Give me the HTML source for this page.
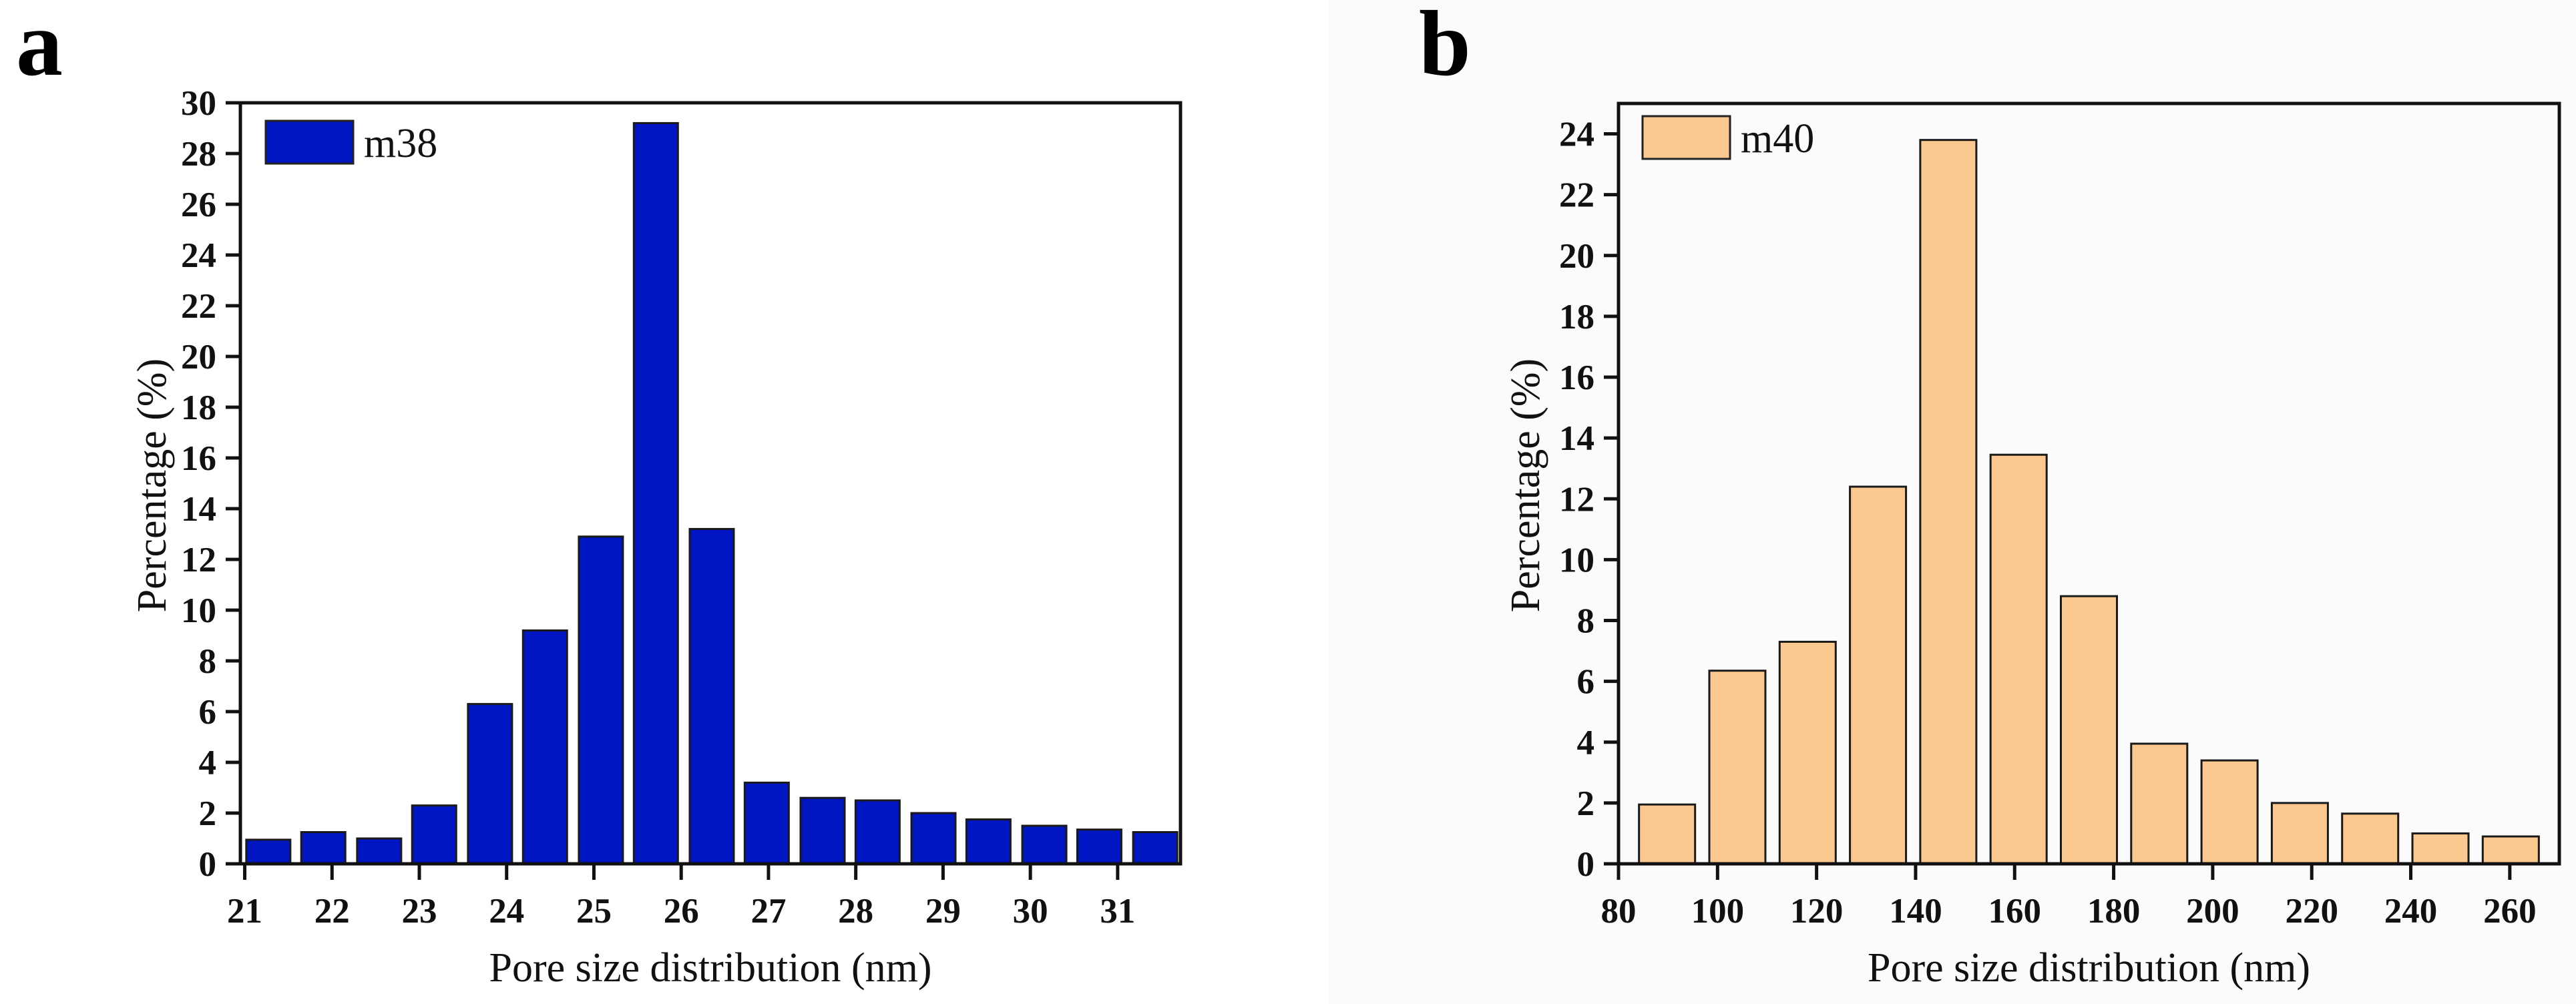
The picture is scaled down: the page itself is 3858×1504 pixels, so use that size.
<!DOCTYPE html>
<html><head><meta charset="utf-8"><style>
html,body{margin:0;padding:0;background:#fff;}
svg{display:block;font-family:"Liberation Serif",serif;}
</style></head><body>
<svg id="fig" width="3858" height="1504" viewBox="0 0 3858 1504" xmlns="http://www.w3.org/2000/svg">
<rect x="0" y="0" width="3858" height="1504" fill="#ffffff"/>
<rect x="1990" y="0" width="1868" height="1504" fill="#fbfbfb"/>
<g id="pa"></g>
<g id="pb"></g>
</svg>
<script>
// Panel a data
const catsA = [21.27,21.90,22.54,23.17,23.81,24.44,25.08,25.71,26.35,26.98,27.62,28.25,28.89,29.52,30.16,30.79,31.43];
const valsA = [0.95,1.25,1.0,2.3,6.3,9.2,12.9,29.2,13.2,3.2,2.6,2.5,2.0,1.75,1.5,1.35,1.25];
const xTicksA = [21,22,23,24,25,26,27,28,29,30,31];
const yTicksA = [0,2,4,6,8,10,12,14,16,18,20,22,24,26,28,30];
// Panel b data
const catsB = [89.8,104,118.2,132.4,146.6,160.8,175,189.2,203.4,217.6,231.8,246,260.2];
const valsB = [1.95,6.35,7.3,12.4,23.8,13.45,8.8,3.95,3.4,2.0,1.65,1.0,0.9];
const xTicksB = [80,100,120,140,160,180,200,220,240,260];
const yTicksB = [0,2,4,6,8,10,12,14,16,18,20,22,24];

const NS="http://www.w3.org/2000/svg";
function mk(tag,attrs,parent){const e=document.createElementNS(NS,tag);for(const k in attrs)e.setAttribute(k,attrs[k]);parent.appendChild(e);return e;}

function panel(g,cfg){
  const sx=v=>cfg.L+(v-cfg.xmin)/(cfg.xmax-cfg.xmin)*(cfg.R-cfg.L);
  const sy=v=>cfg.B-(v-cfg.ymin)/(cfg.ymax-cfg.ymin)*(cfg.B-cfg.T);
  // bars
  cfg.cats.forEach((c,i)=>{
    const x=sx(c)-cfg.bw/2, y=sy(cfg.vals[i]);
    const r=mk('rect',{x:x,y:y,width:cfg.bw,height:cfg.B-y,fill:cfg.fill,stroke:'#1a1a1a','stroke-width':3},g);
    
    
  });
  // frame
  const f=mk('rect',{x:cfg.L,y:cfg.T,width:cfg.R-cfg.L,height:cfg.B-cfg.T,fill:'none',stroke:'#111','stroke-width':5},g);
  
  
  // y ticks
  cfg.yt.forEach(v=>{
    const y=sy(v);
    const t=mk('line',{x1:cfg.L-22,x2:cfg.L,y1:y,y2:y,stroke:'#111','stroke-width':5},g);
    
    
    const l=mk('text',{x:cfg.L-36,y:y+18,'text-anchor':'end','font-size':53,'font-weight':'bold',fill:'#111'},g);
    l.textContent=v;
    
    
  });
  cfg.xt.forEach(v=>{
    const x=sx(v);
    const t=mk('line',{x1:x,x2:x,y1:cfg.B,y2:cfg.B+24,stroke:'#111','stroke-width':5},g);
    
    
    const l=mk('text',{x:x,y:cfg.B+88,'text-anchor':'middle','font-size':53,'font-weight':'bold',fill:'#111'},g);
    l.textContent=v;
    
    
  });
  const xt=mk('text',{x:(cfg.L+cfg.R)/2+cfg.xtOff,y:1470,'text-anchor':'middle','font-size':62,fill:'#111'},g);
  xt.textContent='Pore size distribution (nm)';
  
  
  const yt=mk('text',{x:0,y:0,'text-anchor':'middle','font-size':62,fill:'#111',transform:'translate('+cfg.ytx+',727) rotate(-90)'},g);
  yt.textContent='Percentage (%)';
  
  
  const lb=mk('rect',{x:cfg.lx,y:cfg.ly,width:131,height:64,fill:cfg.fill,stroke:'#222','stroke-width':3},g);
  
  
  const lt=mk('text',{x:cfg.lx+147,y:cfg.ly+54,'font-size':62,fill:'#111'},g);
  lt.textContent=cfg.name;
  
  
  const pl=mk('text',{x:cfg.px,y:112,'font-size':140,'font-weight':'bold',fill:'#000'},g);
  pl.textContent=cfg.letter;
  
  
}
panel(document.getElementById('pa'),{L:360,R:1768,T:154,B:1294,xmin:20.95,xmax:31.72,ymin:0,ymax:30,
  cats:catsA,vals:valsA,xt:xTicksA,yt:yTicksA,bw:66,fill:'#0016c2',lx:398,ly:181,name:'m38',letter:'a',px:24,ytx:248,xtOff:0});
panel(document.getElementById('pb'),{L:2424,R:3833,T:155,B:1294,xmin:80,xmax:270,ymin:0,ymax:25,
  cats:catsB,vals:valsB,xt:xTicksB,yt:yTicksB,bw:84,fill:'#fbc98f',lx:2460,ly:174,name:'m40',letter:'b',px:2125,ytx:2305,xtOff:0});
</script>
</body></html>
